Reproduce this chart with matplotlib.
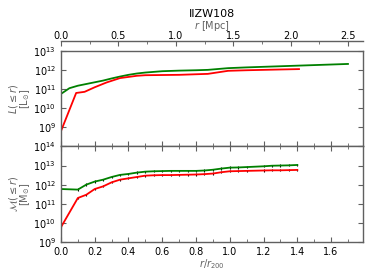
import matplotlib
matplotlib.use("Agg")
import matplotlib.pyplot as plt
import numpy as np

R200 = 1.47  # Mpc
XMAX = 1.79

# luminosity profiles (r/r200, log10 L)
lum_tot_r = [0.0, 0.05, 0.1, 0.15, 0.2, 0.25, 0.3, 0.35, 0.4, 0.45, 0.5, 0.6, 0.7, 0.8,
             0.87, 0.99, 1.1, 1.2, 1.3, 1.4, 1.5, 1.6, 1.7]
lum_tot_log = [10.75, 11.05, 11.18, 11.27, 11.36, 11.45, 11.56, 11.66, 11.75, 11.82, 11.87,
               11.94, 11.97, 11.99, 12.01, 12.1, 12.14, 12.17, 12.2, 12.23, 12.26, 12.29, 12.32]
lum_mem_r = [0.0, 0.09, 0.14, 0.2, 0.27, 0.35, 0.45, 0.5, 0.6, 0.7, 0.8, 0.87, 0.99,
             1.1, 1.2, 1.3, 1.41]
lum_mem_log = [8.8, 10.8, 10.86, 11.1, 11.35, 11.58, 11.7, 11.73, 11.74, 11.75, 11.78, 11.8,
               11.96, 11.99, 12.01, 12.03, 12.05]

# mass profiles (r/r200, log10 M)
mass_r = [0.0, 0.1, 0.15, 0.2, 0.25, 0.3, 0.35, 0.4, 0.45, 0.5, 0.55, 0.6, 0.65, 0.7,
          0.75, 0.8, 0.85, 0.9, 0.95, 1.0, 1.05, 1.1, 1.2, 1.25, 1.3, 1.35, 1.4]
mass_tot_log = [11.77, 11.74, 12.0, 12.16, 12.26, 12.4, 12.51, 12.56, 12.63, 12.68, 12.7,
                12.71, 12.72, 12.72, 12.72, 12.72, 12.74, 12.78, 12.84, 12.89, 12.9, 12.92,
                12.96, 12.99, 13.0, 13.01, 13.03]
mass_mem_log = [9.77, 11.3, 11.47, 11.77, 11.91, 12.12, 12.26, 12.33, 12.4, 12.47, 12.49,
                12.5, 12.5, 12.51, 12.52, 12.53, 12.55, 12.58, 12.65, 12.7, 12.71, 12.72,
                12.74, 12.75, 12.75, 12.76, 12.77]
mass_err_dex = 0.06

GRAY = "#606060"
plt.rcParams.update({
    "font.size": 7,
    "axes.edgecolor": GRAY,
    "axes.linewidth": 1.0,
    "xtick.direction": "in",
    "ytick.direction": "in",
    "xtick.color": GRAY,
    "ytick.color": GRAY,
    "xtick.labelcolor": "black",
    "ytick.labelcolor": "black",
    "xtick.major.size": 3.5,
    "ytick.major.size": 3.5,
    "xtick.minor.size": 2,
    "ytick.minor.size": 2,
})

fig = plt.figure(figsize=(3.74, 2.80), dpi=100)
gs = fig.add_gridspec(2, 1, left=0.163, right=0.971, top=0.818, bottom=0.136, hspace=0)
ax1 = fig.add_subplot(gs[0])
ax2 = fig.add_subplot(gs[1], sharex=ax1)

ax1.plot(lum_tot_r, 10 ** np.array(lum_tot_log), color="green", lw=1.3)
ax1.plot(lum_mem_r, 10 ** np.array(lum_mem_log), color="red", lw=1.3)
ax1.set_yscale("log")
ax1.set_ylim(1e8, 1e13)
ax1.set_yticks([1e9, 1e10, 1e11, 1e12, 1e13])
ax1.set_ylabel("$L(\\leq r)$\n[L$_{\\odot}$]", color=GRAY, fontsize=7, linespacing=0.85)
ax1.tick_params(labelbottom=False)

for logs, col in [(mass_tot_log, "green"), (mass_mem_log, "red")]:
    y = 10 ** np.array(logs)
    err = [y - y / 10 ** mass_err_dex, y * 10 ** mass_err_dex - y]
    ax2.errorbar(mass_r, y, yerr=err, color=col, ecolor="black", elinewidth=0.8,
                 capsize=0, lw=1.3)
ax2.set_yscale("log")
ax2.set_ylim(1e9, 1e14)
ax2.set_yticks([1e9, 1e10, 1e11, 1e12, 1e13, 1e14])
ax2.set_ylabel("$\\mathcal{M}(\\leq r)$\n[M$_{\\odot}$]", color=GRAY, fontsize=7,
               linespacing=0.85)
ax2.set_xlabel("$r/r_{200}$", color=GRAY, fontsize=7, labelpad=0)
ax2.set_xlim(0, XMAX)
ax2.set_xticks(np.arange(0, 1.61, 0.2))
ax2.set_xticks(np.arange(0, XMAX, 0.1), minor=True)

for ax in (ax1, ax2):
    ax.tick_params(which="both", top=True, right=True)
    ax.yaxis.set_label_coords(-0.095, 0.5)

top = ax1.twiny()
top.set_xlim(0, XMAX * R200)
top.set_xticks([0, 0.5, 1.0, 1.5, 2.0, 2.5])
top.set_xticks(np.arange(0, XMAX * R200, 0.25), minor=True)
for s in ("left", "right", "bottom"):
    top.spines[s].set_visible(False)
top.spines["top"].set_position(("outward", 7))
top.tick_params(axis="x", which="both", direction="in", pad=0.5)

fig.text(0.5 * (0.163 + 0.971), 1 - 26 / 280, "$r$ [Mpc]", color=GRAY, fontsize=7,
         ha="center", va="center")
fig.text(0.5 * (0.163 + 0.971), 1 - 14 / 280, "IIZW108", fontsize=8,
         ha="center", va="center")

fig.savefig("out.png", dpi=100)
